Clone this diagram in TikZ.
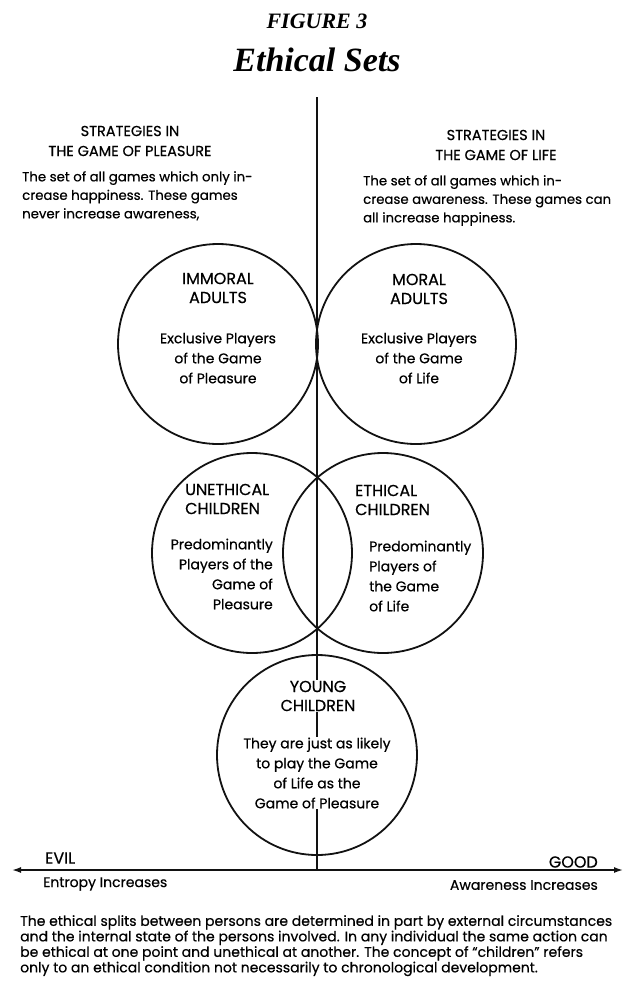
\documentclass[tikz,border=0pt]{standalone}
\usepackage{fontspec}
\setmainfont{Poppins}[FakeBold=0.5]
\newfontfamily\titlefont{Liberation Serif}
\usepackage{tikz}
\usetikzlibrary{arrows.meta,positioning}
\definecolor{inkblack}{RGB}{18,18,18}
\tikzset{
  setcircle/.style={circle,draw=inkblack,line width=1.8pt,
    minimum size=200pt,inner sep=0pt},
  spine/.style={draw=inkblack,line width=2.8pt},
  axisline/.style={draw=inkblack,line width=1.5pt,
    {Latex[length=9pt,width=6pt]}-{Latex[length=9pt,width=6pt]}},
  setname/.style={font=\fontsize{16}{19}\selectfont,align=center,inner sep=1pt},
  setnote/.style={font=\fontsize{14}{20}\selectfont,align=center,inner sep=1pt},
  heading/.style={font=\fontsize{14.5}{20}\selectfont,align=center,inner sep=0pt},
  gamenote/.style={font=\fontsize{13.3}{18.5}\selectfont,align=left,
    anchor=north west,inner sep=0pt},
  axislabel/.style={font=\fontsize{14}{14}\selectfont,inner sep=0pt},
  poletag/.style={font=\fontsize{16}{16}\selectfont,inner sep=0pt},
  caption/.style={font=\fontsize{14}{15.5}\selectfont,align=left,
    anchor=north west,inner sep=0pt}
}

\begin{document}
\begin{tikzpicture}[x=1pt,y=-1pt]
  \useasboundingbox (0,0) rectangle (626,997);
  % title
  \node[font=\titlefont\bfseries\itshape\fontsize{22}{24}\selectfont] (figno) at (317,21) {FIGURE 3};
  \node[font=\titlefont\bfseries\itshape\fontsize{34}{36}\selectfont] (title) at (317,60) {Ethical Sets};
  % spine and axis
  \coordinate (spinetop) at (317,97);
  \coordinate (origin) at (317,870);
  \coordinate (evilend) at (12,870);
  \coordinate (goodend) at (623,870);
  \draw[spine] (spinetop) -- (origin);
  \draw[axisline] (evilend) -- (goodend);
  % the two games
  \node[heading] (pleasurehead) at (130,141) {STRATEGIES IN\\THE GAME OF PLEASURE};
  \node[gamenote] (pleasurenote) at (22,171)
    {The set of all games which only in-\\crease happiness. These games\\never increase awareness,};
  \node[heading] (lifehead) at (496,145) {STRATEGIES IN\\THE GAME OF LIFE};
  \node[gamenote] (lifenote) at (363,175)
    {The set of all games which in-\\crease awareness. These games can\\all increase happiness.};
  % adults
  \node[setcircle] (immoral) at (218,344) {};
  \node[setcircle] (moral) at (416,344) {};
  \node[setname] (immoralname) at (218,288) {IMMORAL\\ADULTS};
  \node[setnote] (immoralnote) at (218,358) {Exclusive Players\\of the Game\\of Pleasure};
  \node[setname] (moralname) at (419,289) {MORAL\\ADULTS};
  \node[setnote] (moralnote) at (419,358) {Exclusive Players\\of the Game\\of Life};
  % children
  \node[setcircle] (unethical) at (252,553) {};
  \node[setcircle] (ethical) at (383,553) {};
  \node[setname,align=left,anchor=west] (unethicalname) at (184,499) {UNETHICAL\\CHILDREN};
  \node[setnote,align=right,anchor=east] (unethicalnote) at (274,574)
    {Predominantly\\Players of the\\Game of\\Pleasure};
  \node[setname,align=left,anchor=west] (ethicalname) at (354,500) {ETHICAL\\CHILDREN};
  \node[setnote,align=left,anchor=west] (ethicalnote) at (368,576)
    {Predominantly\\Players of\\the Game\\of Life};
  % young children
  \node[setcircle] (young) at (317,755) {};
  \node[setname,fill=white] (youngname) at (318,696) {YOUNG\\CHILDREN};
  \node[setnote,fill=white] (youngnote) at (317,773)
    {They are just as likely\\to play the Game\\of Life as the\\Game of Pleasure};
  % axis labels
  \node[poletag,anchor=west] (evil) at (45,858) {EVIL};
  \node[axislabel,anchor=west] (entropy) at (43,884) {Entropy Increases};
  \node[poletag,anchor=east] (good) at (598,862) {GOOD};
  \node[axislabel,anchor=east] (awareness) at (598,885) {Awareness Increases};
  % caption
  \node[caption] (remark) at (20,915)
    {The ethical splits between persons are determined in part by external circumstances\\
     and the internal state of the persons involved. In any individual the same action can\\
     be ethical at one point and unethical at another. The concept of ``children'' refers\\
     only to an ethical condition not necessarily to chronological development.};
\end{tikzpicture}
\end{document}
